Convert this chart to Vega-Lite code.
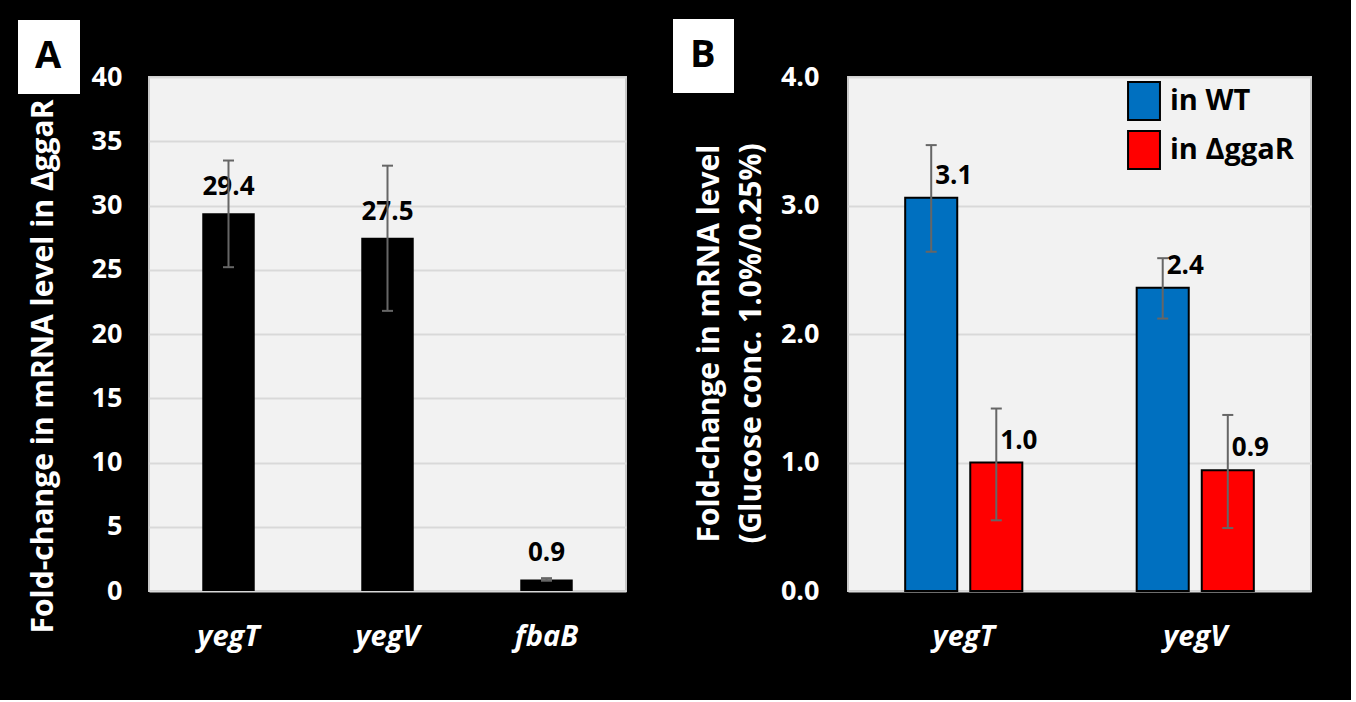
{
  "$schema": "https://vega.github.io/schema/vega-lite/v6.json",
  "background": "black",
  "padding": {"left": 17, "top": 18, "right": 39, "bottom": 48},
  "config": {
    "font": "Open Sans",
    "view": {"fill": "#f2f2f2", "stroke": "#c8c8c8", "strokeWidth": 2},
    "axis": {
      "labelFont": "Open Sans", "labelFontWeight": "bold", "labelColor": "white",
      "titleFont": "Open Sans", "titleFontWeight": "bold", "titleColor": "white",
      "domain": false, "ticks": false, "tickSize": 0,
      "gridColor": "#d9d9d9", "gridWidth": 2
    },
    "axisY": {"labelFontSize": 27, "titleFontSize": 30, "grid": true},
    "text": {"font": "Open Sans"},
    "concat": {"spacing": 45}
  },
  "resolve": {"scale": {"opacity": "independent", "color": "independent"}, "legend": {"opacity": "independent", "color": "independent"}},
  "hconcat": [
    {
      "width": 477,
      "height": 514,
      "data": {"values": [
        {"gene": "yegT", "value": 29.4, "lo": 25.2, "hi": 33.5, "label": "29.4", "panel": "A"},
        {"gene": "yegV", "value": 27.5, "lo": 21.8, "hi": 33.1, "label": "27.5", "panel": "A"},
        {"gene": "fbaB", "value": 0.9, "lo": 0.8, "hi": 1.0, "label": "0.9", "panel": "A"}
      ]},
      "encoding": {
        "x": {
          "field": "gene", "type": "nominal", "sort": null,
          "scale": {"paddingInner": 0.67, "paddingOuter": 0.335},
          "axis": {"title": null, "labelAngle": 0, "labelFontSize": 29, "labelFontStyle": "italic", "labelPadding": 31, "grid": false}
        }
      },
      "layer": [
        {
          "mark": {"type": "bar", "color": "black"},
          "encoding": {
            "y": {
              "field": "value", "type": "quantitative",
              "scale": {"domain": [0, 40], "nice": false},
              "axis": {"values": [0, 5, 10, 15, 20, 25, 30, 35, 40], "title": "Fold-change in mRNA level in ΔggaR", "labelPadding": 27, "titlePadding": 33, "titleY": 289}
            },
            "opacity": {
              "field": "panel", "type": "nominal",
              "scale": {"range": [1]},
              "legend": {
                "orient": "none", "legendX": -131, "legendY": -57,
                "title": null, "fillColor": "white", "padding": 18,
                "symbolSize": 0, "symbolOpacity": 0, "symbolStrokeWidth": 0,
                "labelOffset": -39, "labelFontSize": 38, "labelFontWeight": "bold",
                "labelColor": "black", "labelFont": "Open Sans"
              }
            }
          }
        },
        {
          "mark": {"type": "text", "fontSize": 26, "fontWeight": "bold", "color": "black", "dy": -18, "baseline": "alphabetic", "align": "center"},
          "encoding": {
            "y": {
              "field": "value", "type": "quantitative",
              "scale": {"domain": [0, 40], "nice": false},
              "axis": {"values": [0, 5, 10, 15, 20, 25, 30, 35, 40], "title": "Fold-change in mRNA level in ΔggaR", "labelPadding": 27, "titlePadding": 33, "titleY": 289}
            },
            "text": {"field": "label"}
          }
        },
        {
          "mark": {"type": "rule", "color": "#666666", "strokeWidth": 2},
          "encoding": {
            "y": {
              "field": "lo", "type": "quantitative",
              "scale": {"domain": [0, 40], "nice": false},
              "axis": {"values": [0, 5, 10, 15, 20, 25, 30, 35, 40], "title": "Fold-change in mRNA level in ΔggaR", "labelPadding": 27, "titlePadding": 33, "titleY": 289}
            },
            "y2": {"field": "hi"}
          }
        },
        {
          "mark": {"type": "tick", "color": "#666666", "thickness": 2, "size": 11, "opacity": 1},
          "encoding": {
            "y": {
              "field": "hi", "type": "quantitative",
              "scale": {"domain": [0, 40], "nice": false},
              "axis": {"values": [0, 5, 10, 15, 20, 25, 30, 35, 40], "title": "Fold-change in mRNA level in ΔggaR", "labelPadding": 27, "titlePadding": 33, "titleY": 289}
            }
          }
        },
        {
          "mark": {"type": "tick", "color": "#666666", "thickness": 2, "size": 11, "opacity": 1},
          "encoding": {
            "y": {
              "field": "lo", "type": "quantitative",
              "scale": {"domain": [0, 40], "nice": false},
              "axis": {"values": [0, 5, 10, 15, 20, 25, 30, 35, 40], "title": "Fold-change in mRNA level in ΔggaR", "labelPadding": 27, "titlePadding": 33, "titleY": 289}
            }
          }
        }
      ]
    },
    {
      "width": 463,
      "height": 514,
      "data": {"values": [
        {"gene": "yegT", "cond": "in WT", "value": 3.06, "lo": 2.64, "hi": 3.47, "label": "3.1", "panel": "B"},
        {"gene": "yegT", "cond": "in ΔggaR", "value": 1.0, "lo": 0.55, "hi": 1.42, "label": "1.0", "panel": "B"},
        {"gene": "yegV", "cond": "in WT", "value": 2.36, "lo": 2.12, "hi": 2.59, "label": "2.4", "panel": "B"},
        {"gene": "yegV", "cond": "in ΔggaR", "value": 0.94, "lo": 0.49, "hi": 1.37, "label": "0.9", "panel": "B"}
      ]},
      "encoding": {
        "x": {
          "field": "gene", "type": "nominal", "sort": null,
          "scale": {"paddingInner": 0.494, "paddingOuter": 0.247},
          "axis": {"title": null, "labelAngle": 0, "labelFontSize": 29, "labelFontStyle": "italic", "labelPadding": 31, "grid": false}
        },
        "xOffset": {
          "field": "cond", "type": "nominal",
          "scale": {"domain": ["in WT", "in ΔggaR"], "paddingInner": 0.2, "paddingOuter": 0}
        }
      },
      "layer": [
        {
          "mark": {"type": "bar", "stroke": "black", "strokeWidth": 2},
          "encoding": {
            "y": {
              "field": "value", "type": "quantitative",
              "scale": {"domain": [0, 4], "nice": false},
              "axis": {"values": [0, 1, 2, 3, 4], "format": ".1f", "title": ["Fold-change in mRNA level", "(Glucose conc. 1.0%/0.25%)"], "titleLineHeight": 42, "labelPadding": 29, "titlePadding": 14, "titleY": 266}
            },
            "color": {
              "field": "cond", "type": "nominal",
              "scale": {"domain": ["in WT", "in ΔggaR"], "range": ["#0070C0", "#FF0000"]},
              "legend": {
                "orient": "none", "legendX": 276, "legendY": 4,
                "title": null, "padding": 0,
                "symbolType": "M-0.84,-1H0.84V1H-0.84Z", "symbolSize": 1444,
                "symbolStrokeColor": "black", "symbolStrokeWidth": 2,
                "labelFontSize": 29, "labelFontWeight": "bold", "labelColor": "black",
                "labelFont": "Open Sans", "labelOffset": 6, "rowPadding": 3, "labelLimit": 400,
                "encode": {"symbols": {"update": {"stroke": {"value": "black"}, "strokeWidth": {"value": 2}, "opacity": {"value": 1}}}}
              }
            },
            "opacity": {
              "field": "panel", "type": "nominal",
              "scale": {"range": [1]},
              "legend": {
                "orient": "none", "legendX": -175, "legendY": -58,
                "title": null, "fillColor": "white", "padding": 18,
                "symbolSize": 0, "symbolOpacity": 0, "symbolStrokeWidth": 0,
                "labelOffset": -39, "labelFontSize": 38, "labelFontWeight": "bold",
                "labelColor": "black", "labelFont": "Open Sans"
              }
            }
          }
        },
        {
          "mark": {"type": "text", "fontSize": 26, "fontWeight": "bold", "color": "black", "dx": 4, "dy": -14, "baseline": "alphabetic", "align": "left"},
          "encoding": {
            "y": {
              "field": "value", "type": "quantitative",
              "scale": {"domain": [0, 4], "nice": false},
              "axis": {"values": [0, 1, 2, 3, 4], "format": ".1f", "title": ["Fold-change in mRNA level", "(Glucose conc. 1.0%/0.25%)"], "titleLineHeight": 42, "labelPadding": 29, "titlePadding": 14, "titleY": 266}
            },
            "text": {"field": "label"}
          }
        },
        {
          "mark": {"type": "rule", "color": "#666666", "strokeWidth": 2},
          "encoding": {
            "y": {
              "field": "lo", "type": "quantitative",
              "scale": {"domain": [0, 4], "nice": false},
              "axis": {"values": [0, 1, 2, 3, 4], "format": ".1f", "title": ["Fold-change in mRNA level", "(Glucose conc. 1.0%/0.25%)"], "titleLineHeight": 42, "labelPadding": 29, "titlePadding": 14, "titleY": 266}
            },
            "y2": {"field": "hi"}
          }
        },
        {
          "mark": {"type": "tick", "color": "#666666", "thickness": 2, "size": 11, "opacity": 1},
          "encoding": {
            "y": {
              "field": "hi", "type": "quantitative",
              "scale": {"domain": [0, 4], "nice": false},
              "axis": {"values": [0, 1, 2, 3, 4], "format": ".1f", "title": ["Fold-change in mRNA level", "(Glucose conc. 1.0%/0.25%)"], "titleLineHeight": 42, "labelPadding": 29, "titlePadding": 14, "titleY": 266}
            }
          }
        },
        {
          "mark": {"type": "tick", "color": "#666666", "thickness": 2, "size": 11, "opacity": 1},
          "encoding": {
            "y": {
              "field": "lo", "type": "quantitative",
              "scale": {"domain": [0, 4], "nice": false},
              "axis": {"values": [0, 1, 2, 3, 4], "format": ".1f", "title": ["Fold-change in mRNA level", "(Glucose conc. 1.0%/0.25%)"], "titleLineHeight": 42, "labelPadding": 29, "titlePadding": 14, "titleY": 266}
            }
          }
        }
      ]
    }
  ]
}
